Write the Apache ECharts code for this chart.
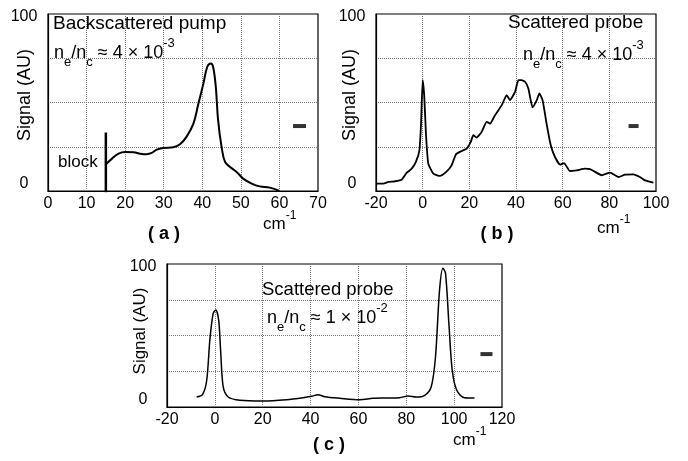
<!DOCTYPE html>
<html>
<head>
<meta charset="utf-8">
<script src="https://cdn.jsdelivr.net/npm/echarts@6/dist/echarts.min.js"></script>
<style>
  html, body { margin: 0; padding: 0; background: #fff; }
  #main { width: 688px; height: 461px; }
</style>
</head>
<body>
<div id="main"></div>
<script>
// (a) backscattered pump, ne/nc ~ 4e-3
var aX = [15, 16.6, 18.3, 20, 22.2, 23.9, 25.6, 26.9, 28.2, 29.9, 32.5, 34.2, 35.9, 37.7, 39, 40.3, 41.3, 42.2, 42.8, 43.5, 44.1, 45, 45.9, 47.2, 48.9, 50.6, 52.8, 54.9, 57.5, 60]
var aY = [15.1, 18.3, 21.1, 22, 21.9, 21.1, 20.8, 21.5, 23.4, 24.3, 24.7, 26.4, 30.6, 38.1, 49.4, 60.8, 70.2, 72.1, 70.2, 58.9, 40, 24.9, 16.4, 13.6, 10.8, 7, 4.2, 2.6, 1.9, 0]
var blockX = [15, 15]
var blockY = [-1, 33]

// (b) scattered probe, ne/nc ~ 4e-3
var bX = [-20, -16.9, -14.7, -11.9, -9, -6.9, -4.7, -2.9, -1.4, -0.7, 0, 0.7, 1.4, 2.4, 4.6, 7.4, 10.3, 12.4, 14.3, 16.7, 18.9, 20.6, 21.7, 23.1, 25.3, 27.4, 28.9, 31, 33.9, 36, 37.4, 39.6, 41, 42.4, 43.9, 45.3, 47.1, 48.9, 50, 51.4, 53.1, 54.9, 56.7, 58.9, 60.6, 63.1, 66, 69.6, 71.7, 73.9, 76.7, 80.3, 83.9, 86.7, 90.3, 93.1, 95.3, 98.9]
var bY = [4.2, 4.2, 5.1, 5.5, 6.4, 10.2, 12.6, 16.4, 23, 38, 62.6, 53.2, 32.5, 15.5, 9.8, 8.5, 11.1, 14.5, 20.8, 22.6, 24, 27.7, 31.5, 30.2, 33.4, 39.1, 38.1, 42.8, 48.5, 54.2, 51.3, 56, 62.6, 62.6, 61.7, 57.9, 47.2, 51.3, 55.1, 51.3, 38.1, 25.8, 19.2, 14.9, 15.8, 11.3, 11.7, 12.6, 12.3, 10.8, 8.9, 10.4, 7.9, 9.2, 9.4, 7.9, 6, 4.7]

// (c) scattered probe, ne/nc ~ 1e-2
var cX = [-7.6, -5.1, -3.4, -2.1, -0.7, 0.4, 1.6, 2.4, 3.5, 5.6, 10.5, 20.2, 29.9, 36.9, 40.4, 43.1, 45.9, 52.2, 60.5, 66.1, 71.7, 77.2, 80.7, 84.2, 87.7, 90.4, 92.2, 93.9, 95.3, 96.4, 97.8, 99.2, 101.1, 104.3, 108.5]
var cY = [7, 8.9, 18.7, 46.7, 65.4, 67.8, 60.7, 39.7, 14, 7, 4.7, 4.2, 5.1, 6.5, 7.5, 8.6, 7.2, 6.1, 5.1, 6.1, 6.3, 6.5, 7.7, 7, 8.2, 14, 35, 81.8, 97, 93.5, 58.4, 25.7, 11.7, 6.5, 6.3]

// small resolution marks
var markX = [65.2, 90.4, 113.5]
var markY = [36.7, 36.7, 37]

var FONT = '"Liberation Sans", Arial, Helvetica, sans-serif'

function pairs(xs, ys) {
  return xs.map(function (x, i) { return [x, ys[i]] })
}

var myChart = echarts.init(document.getElementById('main'), null, { renderer: 'canvas' })

function xAxisOf(idx, min, max, step) {
  return {
    gridIndex: idx, type: 'value', min: min, max: max, interval: step,
    axisLine: { show: true, onZero: false, lineStyle: { color: '#000', width: 1.2 } },
    axisTick: { show: false },
    axisLabel: { color: '#000', fontSize: 16, fontFamily: FONT, margin: 5 },
    splitLine: { show: true, showMinLine: false, showMaxLine: false, lineStyle: { type: 'dotted', color: '#777', width: 1 } }
  }
}
function yAxisOf(idx) {
  return {
    gridIndex: idx, type: 'value', min: 0, max: 100, interval: 25,
    axisLine: { show: true, onZero: false, lineStyle: { color: '#000', width: 1.2 } },
    axisTick: { show: false },
    axisLabel: {
      color: '#000', fontSize: 16, fontFamily: FONT, align: 'center', margin: 24,
      formatter: function (v) {
        if (v === 0) return '{z|0}'
        if (v === 100) return '{h|100}'
        return ''
      },
      rich: {
        z: { fontSize: 16, fontFamily: FONT, color: '#000', padding: [0, 0, 14, 0] },
        h: { fontSize: 16, fontFamily: FONT, color: '#000', padding: [5, 0, 0, 0] }
      }
    },
    splitLine: { show: true, showMinLine: false, showMaxLine: false, lineStyle: { type: 'dotted', color: '#777', width: 1 } }
  }
}

function lineSeries(idx, data, w, smooth) {
  return {
    type: 'line', xAxisIndex: idx, yAxisIndex: idx, data: data,
    showSymbol: false, symbol: 'none', smooth: smooth, silent: true,
    lineStyle: { color: '#000', width: w }
  }
}
function markSeries(idx, i, size) {
  return {
    type: 'scatter', xAxisIndex: idx, yAxisIndex: idx,
    data: [[markX[i], markY[i]]], symbol: 'rect', symbolSize: size,
    itemStyle: { color: '#000' }, silent: true
  }
}

var richNe = {
  m: { fontSize: 18, fontFamily: FONT, lineHeight: 32 },
  s: { fontSize: 13, fontFamily: FONT, lineHeight: 13, verticalAlign: 'bottom' },
  p: { fontSize: 13, fontFamily: FONT, lineHeight: 22, verticalAlign: 'top' }
}
var richCm = {
  m: { fontSize: 17, fontFamily: FONT, lineHeight: 28 },
  p: { fontSize: 12, fontFamily: FONT, lineHeight: 18, verticalAlign: 'top' }
}

function txt(x, y, text, size, extra) {
  var st = { text: text, fill: '#000', font: size + 'px ' + FONT, align: 'left', verticalAlign: 'middle' }
  for (var k in extra) st[k] = extra[k]
  return { type: 'text', x: x, y: y, style: st, z: 100 }
}
function vtxt(x, y, text, size) {
  var t = txt(x, y, text, size, { align: 'center' })
  t.rotation = Math.PI / 2
  return t
}

var option = {
  animation: false,
  backgroundColor: '#fff',
  grid: [
    { left: 48, top: 14, width: 270, height: 177, show: true, borderColor: '#000', borderWidth: 1.2, outerBoundsMode: 'none' },
    { left: 376, top: 14, width: 280, height: 177, show: true, borderColor: '#000', borderWidth: 1.2, outerBoundsMode: 'none' },
    { left: 167, top: 264, width: 335, height: 143, show: true, borderColor: '#000', borderWidth: 1.2, outerBoundsMode: 'none' }
  ],
  xAxis: [xAxisOf(0, 0, 70, 10), xAxisOf(1, -20, 100, 20), xAxisOf(2, -20, 120, 20)],
  yAxis: [yAxisOf(0), yAxisOf(1), yAxisOf(2)],
  series: [
    lineSeries(0, pairs(aX, aY), 2, 0.4),
    lineSeries(0, pairs(blockX, blockY), 2.5, false),
    lineSeries(1, pairs(bX, bY), 1.8, 0.15),
    lineSeries(2, pairs(cX, cY), 1.5, 0.3),
    markSeries(0, 0, [13, 4]),
    markSeries(1, 1, [10, 4]),
    markSeries(2, 2, [12, 4])
  ],
  graphic: [
    txt(53, 24, 'Backscattered pump', 19),
    txt(54, 53, '{m|n}{s|e}{m|/n}{s|c}{m| ≈ 4 × 10}{p|-3}', 18, { rich: richNe }),
    txt(58, 162, 'block', 17),
    vtxt(25, 95, 'Signal (AU)', 18),
    txt(263, 224, '{m|cm}{p|-1}', 17, { rich: richCm }),
    txt(164, 234, '( a )', 18, { align: 'center', font: 'bold 18px ' + FONT }),

    txt(508, 23, 'Scattered probe', 19),
    txt(523, 55, '{m|n}{s|e}{m|/n}{s|c}{m| ≈ 4 × 10}{p|-3}', 18, { rich: richNe }),
    vtxt(350, 95, 'Signal (AU)', 18),
    txt(597, 228, '{m|cm}{p|-1}', 17, { rich: richCm }),
    txt(497, 234, '( b )', 18, { align: 'center', font: 'bold 18px ' + FONT }),

    txt(262, 290, 'Scattered probe', 18.5),
    txt(267, 318, '{m|n}{s|e}{m|/n}{s|c}{m| ≈ 1 × 10}{p|-2}', 18, { rich: richNe }),
    vtxt(140, 331, 'Signal (AU)', 17),
    txt(453, 440, '{m|cm}{p|-1}', 17, { rich: richCm }),
    txt(329, 445, '( c )', 18, { align: 'center', font: 'bold 18px ' + FONT })
  ]
}

myChart.setOption(option)
</script>
</body>
</html>
